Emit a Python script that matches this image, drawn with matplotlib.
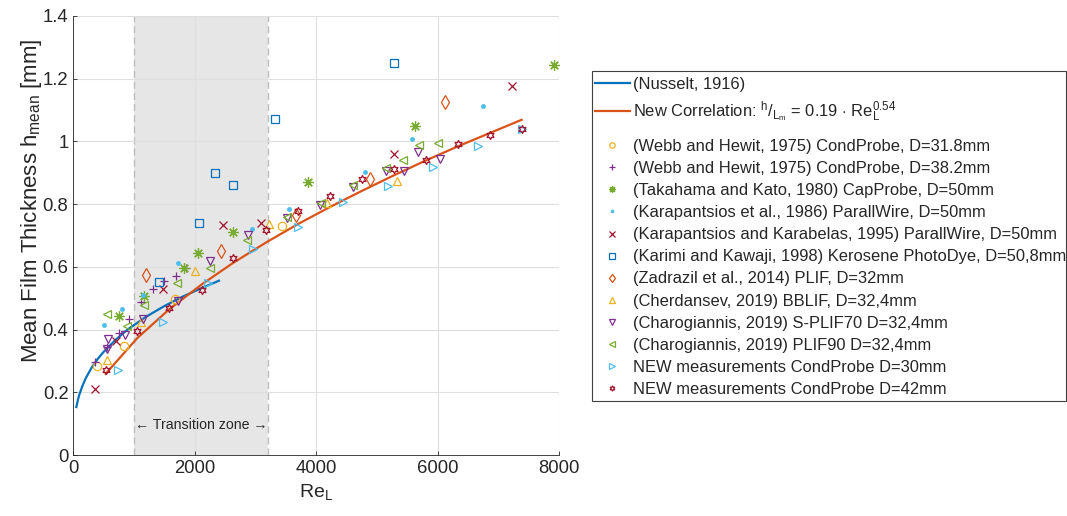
import matplotlib.pyplot as plt
from matplotlib.patches import Rectangle

plt.rcParams['font.family'] = ['Liberation Sans', 'DejaVu Sans']
plt.rcParams['mathtext.fontset'] = 'custom'
plt.rcParams['mathtext.rm'] = 'Liberation Sans'
plt.rcParams['mathtext.it'] = 'Liberation Sans'
plt.rcParams['mathtext.bf'] = 'Liberation Sans:bold'

# Theoretical / fitted curves
nusselt_re = [50, 75, 100, 150, 200, 300, 400, 500, 700, 900, 1200, 1500, 1800, 2100, 2400]
nusselt_h = [0.153, 0.175, 0.193, 0.220, 0.243, 0.278, 0.306, 0.329, 0.368, 0.401,
             0.441, 0.475, 0.505, 0.531, 0.556]

corr_re = [533, 1054, 1581, 2115, 2635, 3168, 3696, 4228, 4750, 5282, 5804, 6331, 6863, 7385]
corr_h = [0.259, 0.373, 0.465, 0.544, 0.613, 0.677, 0.736, 0.791, 0.842, 0.892,
          0.939, 0.984, 1.027, 1.069]

# Literature data
webb318_re = [390, 835, 1675, 3430]
webb318_h = [0.285, 0.347, 0.497, 0.729]

webb382_re = [357, 560, 760, 925, 1107, 1310, 1500, 1690, 1850]
webb382_h = [0.298, 0.343, 0.390, 0.433, 0.489, 0.530, 0.554, 0.572, 0.597]

takahama_re = [760, 1160, 1830, 2050, 2630, 3865, 5630, 7920]
takahama_h = [0.442, 0.506, 0.597, 0.643, 0.711, 0.870, 1.049, 1.245]

karap86_re = [500, 800, 1150, 1725, 2950, 3560, 4800, 5580, 6755]
karap86_h = [0.415, 0.465, 0.510, 0.611, 0.721, 0.784, 0.903, 1.009, 1.113]

karap95_re = [360, 700, 1480, 2470, 3090, 5290, 7225]
karap95_h = [0.210, 0.362, 0.529, 0.734, 0.739, 0.960, 1.176]

karimi_re = [1410, 2065, 2330, 2630, 3330, 5280]
karimi_h = [0.551, 0.740, 0.900, 0.861, 1.072, 1.250]

zadrazil_re = [1200, 2430, 3665, 4890, 6125]
zadrazil_h = [0.573, 0.652, 0.766, 0.881, 1.126]

cherdansev_re = [550, 1115, 2005, 3225, 4175, 5325]
cherdansev_h = [0.303, 0.425, 0.587, 0.736, 0.803, 0.874]

splif70_re = [555, 577, 851, 1153, 1719, 2251, 2872, 3514, 4063, 4601, 5150, 5447, 5675, 6035]
splif70_h = [0.337, 0.371, 0.383, 0.435, 0.492, 0.618, 0.701, 0.755, 0.797, 0.855,
             0.905, 0.907, 0.966, 0.945]

plif90_re = [560, 879, 1164, 1716, 2251, 2856, 3514, 4074, 4601, 5150, 5435, 5700, 6012]
plif90_h = [0.451, 0.410, 0.478, 0.548, 0.595, 0.686, 0.760, 0.805, 0.861, 0.914,
            0.941, 0.989, 0.994]

# New measurements
new30_re = [741, 1482, 2223, 2965, 3701, 4437, 5178, 5919, 6660, 7395]
new30_h = [0.270, 0.425, 0.547, 0.658, 0.728, 0.807, 0.859, 0.917, 0.986, 1.040]

new42_re = [533, 1054, 1581, 2115, 2635, 3168, 3696, 4228, 4750, 5282, 5804, 6331, 6863, 7385]
new42_h = [0.271, 0.395, 0.468, 0.527, 0.628, 0.718, 0.779, 0.826, 0.880, 0.911,
           0.941, 0.991, 1.021, 1.039]

series = [
    ('(Webb and Hewit, 1975) CondProbe, D=31.8mm', webb318_re, webb318_h, 'o', '#EDB120'),
    ('(Webb and Hewit, 1975) CondProbe, D=38.2mm', webb382_re, webb382_h, '+', '#7E2F8E'),
    ('(Takahama and Kato, 1980) CapProbe, D=50mm', takahama_re, takahama_h, (8, 2, 0), '#77AC30'),
    ('(Karapantsios et al., 1986) ParallWire, D=50mm', karap86_re, karap86_h, '.', '#4DBEEE'),
    ('(Karapantsios and Karabelas, 1995) ParallWire, D=50mm', karap95_re, karap95_h, 'x', '#A2142F'),
    ('(Karimi and Kawaji, 1998) Kerosene PhotoDye, D=50,8mm', karimi_re, karimi_h, 's', '#0072BD'),
    ('(Zadrazil et al., 2014) PLIF, D=32mm', zadrazil_re, zadrazil_h, 'd', '#D95319'),
    ('(Cherdansev, 2019) BBLIF, D=32,4mm', cherdansev_re, cherdansev_h, '^', '#EDB120'),
    ('(Charogiannis, 2019) S-PLIF70 D=32,4mm', splif70_re, splif70_h, 'v', '#7E2F8E'),
    ('(Charogiannis, 2019) PLIF90 D=32,4mm', plif90_re, plif90_h, '<', '#77AC30'),
    ('NEW measurements CondProbe D=30mm', new30_re, new30_h, '>', '#4DBEEE'),
    ('NEW measurements CondProbe D=42mm', new42_re, new42_h, (6, 1, 0), '#A2142F'),
]

fig = plt.figure(figsize=(10.67, 5.16), dpi=100)
ax = fig.add_axes([0.0687, 0.1182, 0.4552, 0.8508])

# transition zone
ax.axvspan(1000, 3200, facecolor='#E6E6E6', edgecolor='none', zorder=0.2)
for xv in (1000, 3200):
    ax.axvline(xv, color='#BDBDBD', ls=(0, (5, 3)), lw=1, zorder=0.3)
ax.text(2100, 0.097, '\u2190 Transition zone \u2192', ha='center', va='center',
        fontsize=10.2, color='#262626')

line_handles = []
line_handles += ax.plot(nusselt_re, nusselt_h, color='#0072BD', lw=1.6, label='(Nusselt, 1916)')
line_handles += ax.plot(corr_re, corr_h, color='#D95319', lw=1.6,
                        label=r'New Correlation: $^{h}/_{L_{m}}$ = 0.19 $\cdot$ Re$_{L}^{0.54}$')

point_handles = []
for name, re, h, marker, color in series:
    if marker == '.':
        point_handles += ax.plot(re, h, ls='none', marker='.', color=color, ms=5, label=name)
    else:
        size = {'d': 7, (8, 2, 0): 7.5}.get(marker, 6)
        point_handles += ax.plot(re, h, ls='none', marker=marker, mfc='none', mec=color,
                                 ms=size, mew=0.9, label=name)

ax.set_xlim(0, 8000)
ax.set_ylim(0, 1.4)
ax.set_xticks([0, 2000, 4000, 6000, 8000])
ax.set_yticks([0, 0.2, 0.4, 0.6, 0.8, 1.0, 1.2, 1.4])
ax.set_yticklabels(['0', '0.2', '0.4', '0.6', '0.8', '1', '1.2', '1.4'])
ax.grid(True, color='#DFDFDF', lw=0.8)
ax.set_axisbelow(True)
ax.tick_params(direction='in', length=3, width=0.6, colors='#262626', labelsize=13.3)
for side in ('top', 'right'):
    ax.spines[side].set_visible(False)
for side in ('left', 'bottom'):
    ax.spines[side].set_color('#262626')
    ax.spines[side].set_linewidth(0.6)

ax.set_xlabel(r'Re$_{L}$', fontsize=14, color='#262626')
ax.set_ylabel(r'Mean Film Thickness h$_{mean}$ [mm]', fontsize=16, color='#262626')
ax.yaxis.set_label_coords(-0.06, 0.58)

# legend: two stacked groups inside one frame
W, H = 1067, 516
leg_kw = dict(loc='upper left', bbox_transform=fig.transFigure, borderaxespad=0,
              borderpad=0, fontsize=11.85, frameon=False, handlelength=2.1,
              handletextpad=0.2, labelspacing=0.43, markerscale=0.65,
              labelcolor='#262626')
fig.legend(handles=line_handles, bbox_to_anchor=(595 / W, 1 - 77 / H), **leg_kw)
fig.legend(handles=point_handles, bbox_to_anchor=(595 / W, 1 - 139 / H), **leg_kw)
fig.patches.append(Rectangle((592 / W, 1 - 401 / H), 474 / W, 330 / H,
                             transform=fig.transFigure, fill=False,
                             edgecolor='#404040', lw=0.8))

fig.savefig('out.png', dpi=100)
